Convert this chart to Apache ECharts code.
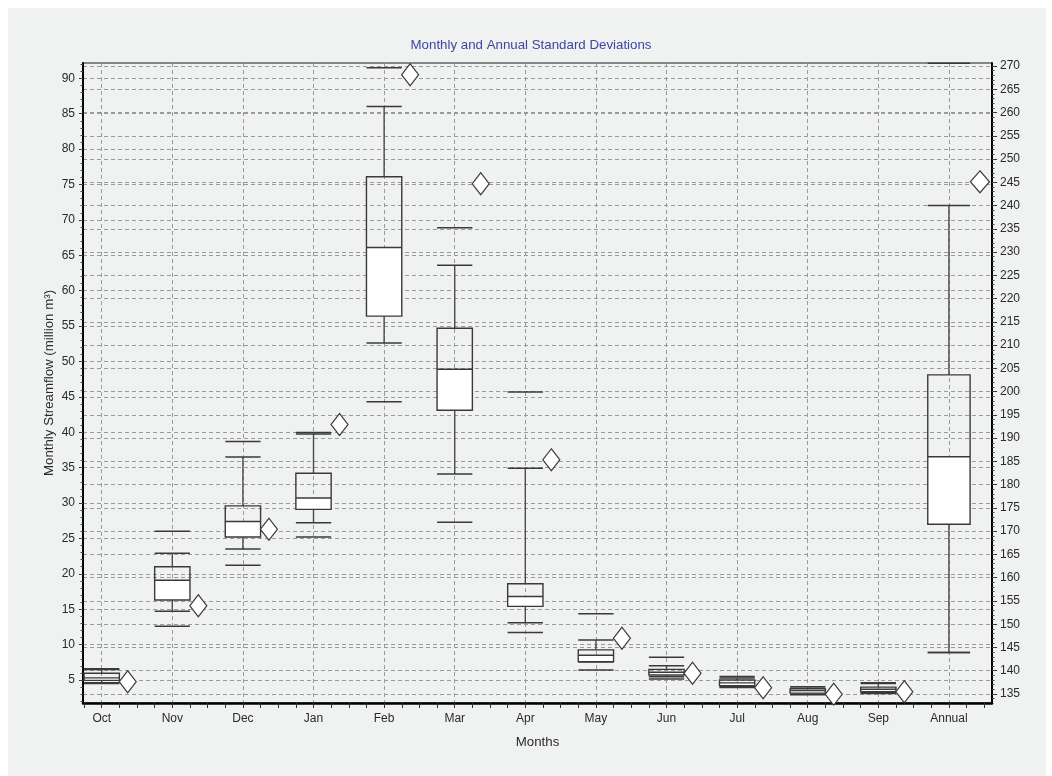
<!DOCTYPE html>
<html>
<head>
<meta charset="utf-8">
<title>Monthly and Annual Standard Deviations</title>
<script src="https://cdn.jsdelivr.net/npm/echarts@6/dist/echarts.min.js"></script>
<style>
  html, body { margin: 0; padding: 0; background: #ffffff; }
  #panel { position: absolute; left: 8px; top: 8px; width: 1038px; height: 768px; background: #f0f1f1; }
  #chart { position: absolute; left: 0; top: 0; width: 1052px; height: 776px; }
</style>
</head>
<body>
<div id="panel"></div>
<div id="chart"></div>
<script>
// Categories along the x axis (12 months + the annual total)
const categories = ['Oct', 'Nov', 'Dec', 'Jan', 'Feb', 'Mar', 'Apr', 'May', 'Jun', 'Jul', 'Aug', 'Sep', 'Annual'];

// Monthly statistics, million m³ (left axis)
const monthMin   = [4.50, 12.6, 21.2, 25.2, 44.3, 27.3, 11.7, 6.40, 5.15, 3.95, 2.90, 3.10];
const monthLow   = [4.60, 14.7, 23.5, 27.2, 52.6, 34.1, 13.1, 7.55, 5.45, 4.05, 3.00, 3.20];
const monthQ1    = [4.95, 16.3, 25.2, 29.1, 56.4, 43.1, 15.4, 7.60, 5.70, 4.20, 3.15, 3.35];
const monthMed   = [5.30, 19.1, 27.4, 30.7, 66.1, 48.9, 16.8, 8.50, 6.10, 4.60, 3.50, 3.70];
const monthQ3    = [5.95, 21.0, 29.6, 34.2, 76.1, 54.7, 18.6, 9.25, 6.50, 5.00, 3.75, 4.00];
const monthHigh  = [6.50, 22.9, 36.5, 39.75, 86.0, 63.6, 34.9, 10.65, 7.00, 5.30, 3.85, 4.50];
const monthMax   = [6.60, 26.0, 38.7, 39.95, 91.5, 68.9, 45.7, 14.35, 8.20, 5.50, 4.05, 4.60];
const monthPoint = [4.75, 15.5, 26.3, 41.1, 90.5, 75.1, 36.1, 10.9, 5.95, 3.90, 3.00, 3.35];

// Annual statistics, million m³ (right axis)
const annualMin   = [143.9];
const annualLow   = [143.9];
const annualQ1    = [171.5];
const annualMed   = [186.0];
const annualQ3    = [203.6];
const annualHigh  = [240.0];
const annualMax   = [270.6];
const annualPoint = [245.1];

// Tick labels
const leftTickValues  = [5, 10, 15, 20, 25, 30, 35, 40, 45, 50, 55, 60, 65, 70, 75, 80, 85, 90];
const rightTickValues = [135, 140, 145, 150, 155, 160, 165, 170, 175, 180, 185, 190, 195, 200,
                         205, 210, 215, 220, 225, 230, 235, 240, 245, 250, 255, 260, 265, 270];
const categoryTickValues = [0, 1, 2, 3, 4, 5, 6, 7, 8, 9, 10, 11, 12];

// Axis extents
const X_MIN = -0.265, X_MAX = 12.61;
const LEFT_MIN = 1.751, LEFT_MAX = 92.16;
const RIGHT_MIN = 133.065, RIGHT_MAX = 270.645;

// Minor tick positions (every unit on y, every quarter on x)
const leftMinor = [];
for (let v = 2; v <= 92; v++) leftMinor.push(v);
const rightMinor = [];
for (let v = 134; v <= 270; v++) rightMinor.push(v);
const xMinor = [];
for (let v = -0.25; v <= 12.5 + 1e-9; v += 0.25) xMinor.push(Math.round(v * 100) / 100);

const FONT = '"Liberation Sans", Arial, sans-serif';
const LABEL_COLOR = '#2a2a2a';
const GRID_LINE = { show: true, lineStyle: { color: '#9a9a9a', width: 1, type: [4, 3] } };
const BOX_STROKE = '#3a3a3a';

function rows(i0, n, mins, lows, q1s, meds, q3s, highs, maxs) {
  const out = [];
  for (let k = 0; k < n; k++) {
    out.push([i0 + k, mins[k], lows[k], q1s[k], meds[k], q3s[k], highs[k], maxs[k]]);
  }
  return out;
}

// Box with inner whiskers plus separate extreme caps; the upper half of the box is left open
function boxRenderer(boxUnits) {
  return function (params, api) {
    const x = api.value(0);
    const w = api.size([boxUnits, 0])[0];
    const y = k => api.coord([x, api.value(k)])[1];
    const cx = api.coord([x, api.value(1)])[0];
    const l = cx - w / 2, r = cx + w / 2;
    const yMin = y(1), yLow = y(2), yQ1 = y(3), yMed = y(4), yQ3 = y(5), yHigh = y(6), yMax = y(7);
    const seg = (x1, y1, x2, y2, color, width) => ({
      type: 'line',
      shape: { x1: x1, y1: y1, x2: x2, y2: y2 },
      style: { stroke: color, lineWidth: width }
    });
    return {
      type: 'group',
      children: [
        seg(cx, yQ3, cx, yHigh, '#4a4a4a', 1.4),
        seg(cx, yQ1, cx, yLow, '#4a4a4a', 1.4),
        { type: 'rect', shape: { x: l, y: yMed, width: w, height: yQ1 - yMed }, style: { fill: '#ffffff' } },
        { type: 'rect', shape: { x: l, y: yQ3, width: w, height: yQ1 - yQ3 }, style: { fill: 'none', stroke: BOX_STROKE, lineWidth: 1.4 } },
        seg(l, yMed, r, yMed, BOX_STROKE, 1.4),
        seg(l, yHigh, r, yHigh, BOX_STROKE, 1.5),
        seg(l, yLow, r, yLow, BOX_STROKE, 1.5),
        seg(l, yMax, r, yMax, BOX_STROKE, 1.5),
        seg(l, yMin, r, yMin, BOX_STROKE, 1.5)
      ]
    };
  };
}

const chart = echarts.init(document.getElementById('chart'), null, { renderer: 'canvas' });

const yBase = {
  type: 'value',
  axisLine: { show: false, onZero: false },
  axisLabel: { show: false },
  axisTick: { show: false },
  splitLine: { show: false }
};

const option = {
  animation: false,
  backgroundColor: 'transparent',
  textStyle: { fontFamily: FONT },
  graphic: [{
    type: 'text',
    x: 531,
    y: 45,
    style: {
      text: 'Monthly and Annual Standard Deviations',
      fill: '#3d46a3',
      font: '13.3px ' + FONT,
      align: 'center',
      verticalAlign: 'middle'
    }
  }],
  grid: {
    left: 83, top: 63, width: 909, height: 640,
    show: true, borderColor: '#1a1a1a', borderWidth: 1,
    backgroundColor: 'transparent',
    outerBoundsMode: 'none',
    containLabel: false
  },
  xAxis: [
    {
      type: 'value', min: X_MIN, max: X_MAX, position: 'bottom',
      name: 'Months', nameLocation: 'middle', nameGap: 33, nameMoveOverlap: false,
      nameTextStyle: { color: LABEL_COLOR, fontSize: 13.3, fontFamily: FONT },
      axisLine: { show: true, onZero: false, lineStyle: { color: '#000', width: 2.5 } },
      axisTick: { show: true, length: 5, customValues: xMinor, lineStyle: { color: '#333', width: 1 } },
      axisLabel: {
        show: true, customValues: categoryTickValues, margin: 10,
        color: LABEL_COLOR, fontSize: 12, fontFamily: FONT,
        formatter: v => categories[Math.round(v)] || ''
      },
      splitLine: { show: false }
    },
    {
      type: 'value', min: X_MIN, max: X_MAX, position: 'bottom',
      axisLine: { show: false, onZero: false },
      axisTick: { show: false, customValues: categoryTickValues },
      axisLabel: { show: false },
      splitLine: GRID_LINE
    }
  ],
  yAxis: [
    {
      type: 'value', min: LEFT_MIN, max: LEFT_MAX, position: 'left',
      name: 'Monthly Streamflow (million m³)', nameLocation: 'middle', nameGap: 27, nameMoveOverlap: false,
      nameTextStyle: { color: LABEL_COLOR, fontSize: 13.3, fontFamily: FONT },
      axisLine: { show: true, onZero: false, lineStyle: { color: '#000', width: 2 } },
      axisTick: { show: true, length: 4, customValues: leftTickValues, lineStyle: { color: '#333', width: 1 } },
      axisLabel: { show: true, customValues: leftTickValues, margin: 8, color: LABEL_COLOR, fontSize: 12, fontFamily: FONT },
      splitLine: GRID_LINE
    },
    Object.assign({}, yBase, {
      min: LEFT_MIN, max: LEFT_MAX, position: 'left',
      axisTick: { show: true, length: 2.5, customValues: leftMinor, lineStyle: { color: '#444', width: 1 } }
    }),
    {
      type: 'value', min: RIGHT_MIN, max: RIGHT_MAX, position: 'right',
      axisLine: { show: true, onZero: false, lineStyle: { color: '#000', width: 2 } },
      axisTick: { show: true, length: 5, customValues: rightTickValues, lineStyle: { color: '#333', width: 1 } },
      axisLabel: { show: true, customValues: rightTickValues, margin: 8, color: LABEL_COLOR, fontSize: 12, fontFamily: FONT },
      splitLine: GRID_LINE
    },
    Object.assign({}, yBase, {
      min: RIGHT_MIN, max: RIGHT_MAX, position: 'right',
      axisTick: { show: true, length: 2.5, customValues: rightMinor, lineStyle: { color: '#444', width: 1 } }
    })
  ],
  series: [
    {
      name: 'Monthly',
      type: 'custom',
      xAxisIndex: 0, yAxisIndex: 0,
      clip: false,
      z: 3,
      renderItem: boxRenderer(0.5),
      encode: { x: 0, y: [1, 2, 3, 4, 5, 6, 7] },
      data: rows(0, monthMin.length, monthMin, monthLow, monthQ1, monthMed, monthQ3, monthHigh, monthMax)
    },
    {
      name: 'Annual',
      type: 'custom',
      xAxisIndex: 0, yAxisIndex: 2,
      clip: false,
      z: 3,
      renderItem: boxRenderer(0.6),
      encode: { x: 0, y: [1, 2, 3, 4, 5, 6, 7] },
      data: rows(12, annualMin.length, annualMin, annualLow, annualQ1, annualMed, annualQ3, annualHigh, annualMax)
    },
    {
      name: 'Monthly point',
      type: 'scatter',
      xAxisIndex: 0, yAxisIndex: 0,
      symbol: 'diamond', symbolSize: [17, 22], symbolOffset: [26, 0],
      itemStyle: { color: '#ffffff', borderColor: '#3a3a3a', borderWidth: 1.2, opacity: 1 },
      z: 4,
      data: monthPoint.map((v, i) => [i, v])
    },
    {
      name: 'Annual point',
      type: 'scatter',
      xAxisIndex: 0, yAxisIndex: 2,
      symbol: 'diamond', symbolSize: [19, 22], symbolOffset: [31, 0],
      itemStyle: { color: '#ffffff', borderColor: '#3a3a3a', borderWidth: 1.2, opacity: 1 },
      z: 4,
      data: annualPoint.map((v, i) => [12 + i, v])
    }
  ]
};

chart.setOption(option);
</script>
</body>
</html>
